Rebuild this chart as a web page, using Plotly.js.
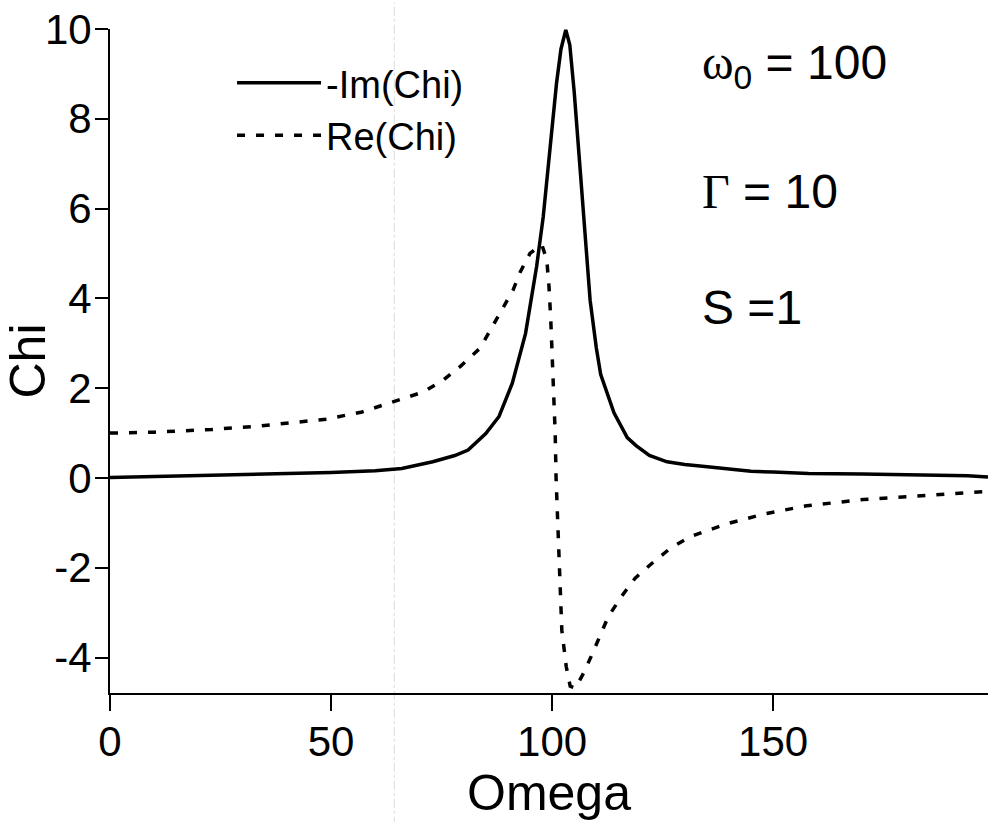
<!DOCTYPE html>
<html>
<head>
<meta charset="utf-8">
<script src="https://cdn.plot.ly/plotly-3.0.1.min.js"></script>
<style>html,body{margin:0;padding:0;background:#fff;}#chart{width:988px;height:822px;}</style>
</head>
<body>
<div id="chart"></div>
<script>
// -Im(Chi) series (solid)
const imOmega = [0, 10, 25, 40, 50, 60, 66, 73, 78, 81, 85, 88, 91, 94, 96.5, 98, 99.5, 101, 102, 103.1, 104, 105, 106.3, 107.5, 108.6, 110, 111, 114, 117, 119, 122, 126, 130, 134, 140, 145, 150, 158, 170, 180, 190, 194, 198.6];
const imChi   = [0.01, 0.03, 0.07, 0.09, 0.12, 0.16, 0.21, 0.36, 0.50, 0.62, 0.99, 1.37, 2.11, 3.22, 4.71, 5.82, 7.3, 8.79, 9.55, 9.98, 9.65, 8.6, 6.93, 5.45, 3.96, 2.9, 2.3, 1.45, 0.9, 0.72, 0.5, 0.36, 0.3, 0.26, 0.2, 0.15, 0.13, 0.10, 0.09, 0.08, 0.07, 0.05, 0.02];

// Re(Chi) series (dashed)
const reOmega = [0, 10, 23, 33, 41, 49, 57, 65.6, 71, 75.4, 79.2, 83.7, 86, 88.6, 91.2, 92.8, 95, 96.5, 97.7, 98.8, 99.3, 99.7, 100.1, 100.5, 100.7, 100.9, 101.2, 101.7, 102.2, 103.2, 104.1, 105.3, 107.1, 109, 110.9, 112.7, 115.7, 118.8, 122.6, 126.7, 131.2, 139.5, 148.5, 157.6, 170.4, 183.3, 198.6];
const reChi   = [1.0, 1.02, 1.08, 1.15, 1.23, 1.31, 1.47, 1.74, 1.92, 2.18, 2.48, 2.89, 3.30, 3.74, 4.19, 4.59, 5.0, 5.12, 5.19, 4.86, 4.26, 3.52, 2.63, 1.74, 1.0, 0.0, -0.86, -2.12, -3.39, -4.2, -4.64, -4.68, -4.35, -3.94, -3.5, -3.09, -2.64, -2.23, -1.9, -1.57, -1.31, -1.02, -0.79, -0.62, -0.48, -0.40, -0.30];

const seriesNames = ['-Im(Chi)', 'Re(Chi)'];
const xTicks = [0, 50, 100, 150];
const yTicks = [-4, -2, 0, 2, 4, 6, 8, 10];
const paramLabels = ['<span style="font-family:\'Liberation Serif\',serif">ω</span><sub>0</sub> = 100',
                     '<span style="font-family:\'Liberation Serif\',serif">Γ</span> = 10',
                     'S =1'];

const FONT = 'Liberation Sans, Arial, sans-serif';

const traces = [
  {x: imOmega, y: imChi, name: seriesNames[0], mode: 'lines', type: 'scatter',
   line: {color: '#000', width: 3.5}},
  {x: reOmega, y: reChi, name: seriesNames[1], mode: 'lines', type: 'scatter',
   line: {color: '#000', width: 3.5, dash: '8px,11px'}}
];

const layout = {
  width: 988, height: 822,
  margin: {l: 110, r: 0, t: 29, b: 129},
  paper_bgcolor: '#fff', plot_bgcolor: '#fff',
  font: {family: FONT, color: '#000'},
  showlegend: true,
  legend: {x: 0.139, y: 0.966, xanchor: 'left', yanchor: 'top',
           font: {size: 38, family: FONT, color: '#000'},
           bgcolor: 'rgba(0,0,0,0)', itemwidth: 84, tracegroupgap: 0},
  xaxis: {range: [0, 198.6], tickvals: xTicks, ticktext: xTicks.map(String),
          showline: true, linecolor: '#000', linewidth: 2,
          ticks: 'outside', ticklen: 16, tickwidth: 2, tickcolor: '#000',
          ticklabelstandoff: -5,
          tickfont: {size: 42, family: FONT},
          showgrid: false, zeroline: false,
          title: {text: 'Omega', font: {size: 50, family: FONT}, standoff: 0}},
  yaxis: {range: [-4.79, 10], tickvals: yTicks, ticktext: yTicks.map(String),
          showline: true, linecolor: '#000', linewidth: 2,
          ticks: 'outside', ticklen: 13, tickwidth: 2, tickcolor: '#000',
          ticklabelstandoff: -5,
          tickfont: {size: 42, family: FONT},
          showgrid: false, zeroline: false,
          title: {text: 'Chi', font: {size: 50, family: FONT}, standoff: 4}},
  shapes: [
    {type: 'line', xref: 'x', yref: 'paper', x0: 64.3, x1: 64.3, y0: -0.2, y1: 1.04,
     line: {color: 'rgba(0,0,0,0.15)', width: 1, dash: 'dashdot'}}
  ],
  annotations: [
    {xref: 'paper', yref: 'paper', x: 0.672, y: 0.945, xanchor: 'left', yanchor: 'middle',
     text: paramLabels[0], showarrow: false, font: {size: 48, family: FONT, color: '#000'}},
    {xref: 'paper', yref: 'paper', x: 0.672, y: 0.756, xanchor: 'left', yanchor: 'middle',
     text: paramLabels[1], showarrow: false, font: {size: 48, family: FONT, color: '#000'}},
    {xref: 'paper', yref: 'paper', x: 0.672, y: 0.58, xanchor: 'left', yanchor: 'middle',
     text: paramLabels[2], showarrow: false, font: {size: 48, family: FONT, color: '#000'}}
  ]
};

Plotly.newPlot('chart', traces, layout, {displayModeBar: false, staticPlot: true});
</script>
</body>
</html>
